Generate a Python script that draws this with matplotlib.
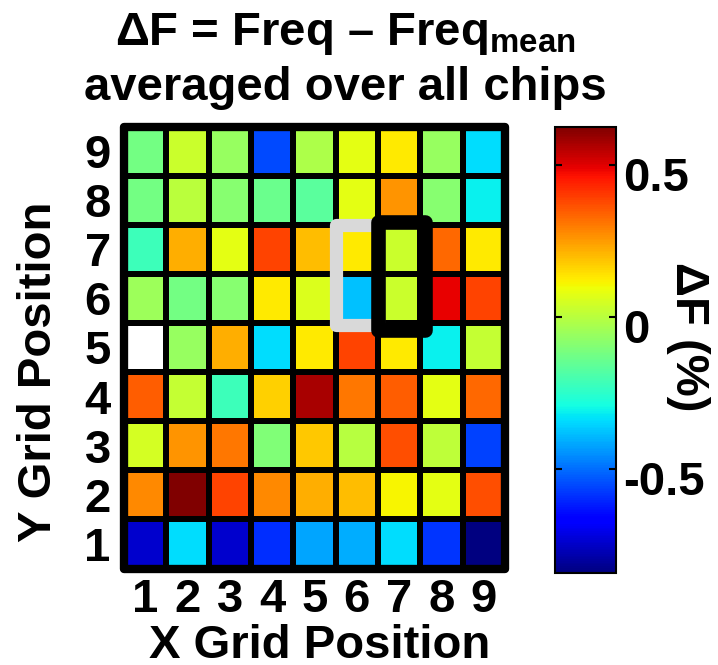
import numpy as np
import matplotlib
matplotlib.use("Agg")
import matplotlib.pyplot as plt
from matplotlib.patches import Rectangle
from matplotlib.transforms import ScaledTranslation

plt.rcParams['font.family'] = ['Liberation Sans', 'DejaVu Sans']
plt.rcParams['font.weight'] = 'bold'
plt.rcParams['mathtext.fontset'] = 'custom'
plt.rcParams['mathtext.bf'] = 'Liberation Sans:bold'
plt.rcParams['mathtext.rm'] = 'Liberation Sans:bold'

x_positions = [1, 2, 3, 4, 5, 6, 7, 8, 9]
y_positions = [1, 2, 3, 4, 5, 6, 7, 8, 9]

# Mean frequency deviation (%) per grid site, rows from Y=1 (bottom) to Y=9 (top)
row_y1 = [-0.74, -0.34, -0.74, -0.59, -0.42, -0.41, -0.34, -0.58, -0.84]
row_y2 = [0.28, 0.625, 0.39, 0.28, 0.22, 0.20, 0.11, 0.08, 0.37]
row_y3 = [0.05, 0.26, 0.31, -0.10, 0.18, 0.00, 0.37, 0.01, -0.56]
row_y4 = [0.35, 0.02, -0.22, 0.17, 0.57, 0.31, 0.35, 0.08, 0.33]
row_y5 = [np.nan, -0.06, 0.22, -0.34, 0.13, 0.39, 0.13, -0.31, 0.02]
row_y6 = [-0.05, -0.12, -0.09, 0.13, 0.06, -0.38, 0.03, 0.49, 0.39]
row_y7 = [-0.22, 0.22, 0.08, 0.39, 0.20, 0.13, 0.03, 0.33, 0.13]
row_y8 = [-0.12, 0.005, -0.09, -0.14, -0.17, 0.08, 0.26, -0.09, -0.31]
row_y9 = [-0.12, 0.03, -0.06, -0.55, -0.02, 0.08, 0.13, -0.06, -0.34]

cbar_ticks = [-0.5, 0, 0.5]
cbar_ticklabels = ['-0.5', '0', '0.5']
c_min, c_max = -0.84, 0.625

# Highlighted regions (x0, x1, y0, y1) in grid units
gray_box = (5.5, 6.5, 5.45, 7.5)
black_box = (6.5, 7.62, 5.36, 7.55)

dF = np.ma.masked_invalid(np.array([row_y1, row_y2, row_y3, row_y4, row_y5,
                                    row_y6, row_y7, row_y8, row_y9]))

W, H, DPI = 718, 665, 100
FS = 34
fig = plt.figure(figsize=(W / DPI, H / DPI), dpi=DPI)

def px_axes(l, t, r, b):
    return fig.add_axes([l / W, 1 - b / H, (r - l) / W, (b - t) / H])

ax = px_axes(124, 126.5, 505, 568.5)
cmap = plt.get_cmap('jet').copy()
cmap.set_bad('white')

xe = np.arange(0.5, 10, 1.0)
ye = np.arange(0.5, 10, 1.0)
mesh = ax.pcolormesh(xe, ye, dF, cmap=cmap, vmin=c_min, vmax=c_max,
                     edgecolors='black', linewidth=4.0)
ax.set_xlim(0.5, 9.5)
ax.set_ylim(0.5, 9.5)
for s in ax.spines.values():
    s.set_visible(False)

# thick rounded outer frame
ax.add_patch(Rectangle((0.5, 0.5), 9, 9, fill=False, edgecolor='black',
                       linewidth=6.0, joinstyle='round', clip_on=False, zorder=5))

gx0, gx1, gy0, gy1 = gray_box
ax.add_patch(Rectangle((gx0, gy0), gx1 - gx0, gy1 - gy0, fill=False,
                       edgecolor='#d9d9d9', linewidth=9.5, joinstyle='round',
                       clip_on=False, zorder=6))
bx0, bx1, by0, by1 = black_box
ax.add_patch(Rectangle((bx0, by0), bx1 - bx0, by1 - by0, fill=False,
                       edgecolor='black', linewidth=10.5, joinstyle='round',
                       clip_on=False, zorder=7))

ax.set_xticks(x_positions)
ax.set_yticks(y_positions)
ax.set_xticklabels([str(v) for v in x_positions], fontsize=FS, fontweight='bold')
ax.set_yticklabels([str(v) for v in y_positions], fontsize=FS, fontweight='bold')
ax.tick_params(axis='both', length=0)
ax.tick_params(axis='x', pad=6.5)
ax.tick_params(axis='y', pad=9.5)
ax.set_xlabel('X Grid Position', fontsize=FS, fontweight='bold')
ax.set_ylabel('Y Grid Position', fontsize=FS, fontweight='bold')
ax.xaxis.set_label_coords(0.514, -0.125)
ax.yaxis.set_label_coords(-0.165, 0.445)

fig.text(345 / W, 1 - 45 / H, r'ΔF = Freq – Freq$_{\mathbf{mean}}$',
         ha='center', va='baseline', fontsize=FS, fontweight='bold')
fig.text(345 / W, 1 - 100 / H, 'averaged over all chips',
         ha='center', va='baseline', fontsize=FS, fontweight='bold')

cax = px_axes(555, 127, 616, 573)
cb = fig.colorbar(mesh, cax=cax, ticks=cbar_ticks)
cb.outline.set_linewidth(1.5)
cb.ax.tick_params(direction='in', length=5, width=1.5, left=True, right=True, pad=5)
cb.ax.set_yticklabels(cbar_ticklabels, fontsize=FS, fontweight='bold')
shift = ScaledTranslation(0, -9 / DPI, fig.dpi_scale_trans)
for t in cb.ax.yaxis.get_major_ticks():
    t.label2.set_transform(t.label2.get_transform() + shift)

fig.text(688 / W, 1 - 337 / H, 'ΔF (%)', rotation=270, ha='center', va='center',
         fontsize=FS, fontweight='bold')

fig.savefig('out.png', dpi=DPI)
